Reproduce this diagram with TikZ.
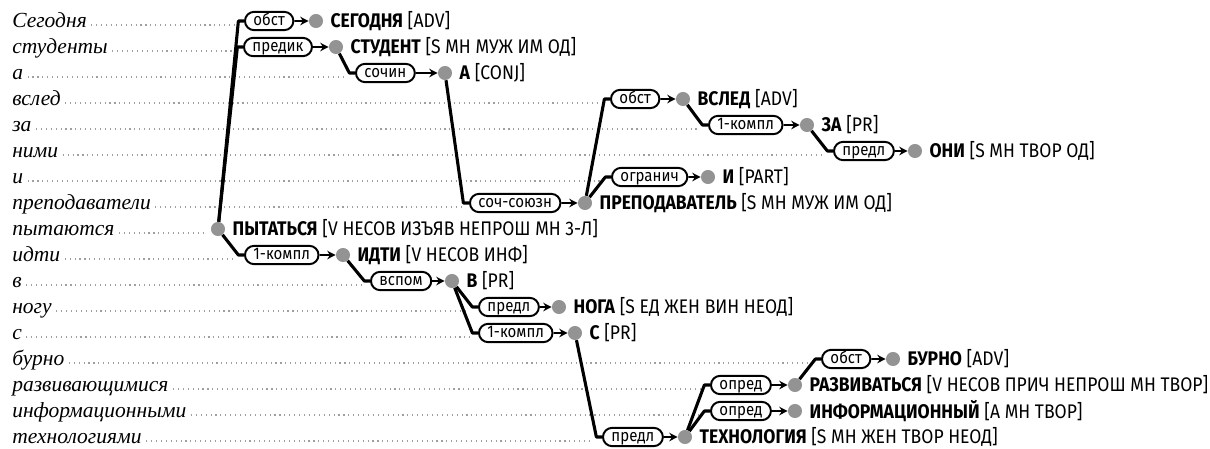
\documentclass[tikz,border=0pt]{standalone}
\usepackage{fontspec}
\setmainfont{Liberation Serif}
\newfontfamily\glossfont[FakeStretch=0.89]{Fira Sans}
\usetikzlibrary{arrows.meta, positioning, shapes.misc}

\begin{document}
\begin{tikzpicture}[
    x=0.025cm, y=-0.025cm,
    % Styles
    word/.style={anchor=west, inner sep=0pt, text height=9pt, text depth=6pt, font=\fontsize{15.3}{17}\selectfont\itshape},
    lemma/.style={inner sep=0pt, font=\glossfont\fontsize{14}{16}\selectfont},
    rel/.style={draw, rounded rectangle, anchor=west, line width=1.4pt, fill=white, inner xsep=3pt, inner ysep=0pt, minimum height=13pt, text height=8.5pt, text depth=2.5pt, font=\glossfont\fontsize{12}{14}\selectfont},
    dot/.style={circle, fill=gray!85, inner sep=0pt, minimum size=10pt},
    edge/.style={line width=2.2pt, line join=round},
    arrow/.style={-{Stealth[length=6pt, width=6pt]}, line width=1.4pt},
    guide/.style={gray!75, line width=0.8pt, dash pattern=on 0.8pt off 2.7pt}
]
    \useasboundingbox (0,0) rectangle (1210,448);

    % 1. WORDS OF THE SENTENCE
    \node[word] (w1)  at (12,25)  {Сегодня};
    \node[word] (w2)  at (12,51)  {студенты};
    \node[word] (w3)  at (12,77)  {а};
    \node[word] (w4)  at (12,103) {вслед};
    \node[word] (w5)  at (12,129) {за};
    \node[word] (w6)  at (12,155) {ними};
    \node[word] (w7)  at (12,181) {и};
    \node[word] (w8)  at (12,207) {преподаватели};
    \node[word] (w9)  at (12,233) {пытаются};
    \node[word] (w10) at (12,259) {идти};
    \node[word] (w11) at (12,285) {в};
    \node[word] (w12) at (12,311) {ногу};
    \node[word] (w13) at (12,337) {с};
    \node[word] (w14) at (12,363) {бурно};
    \node[word] (w15) at (12,389) {развивающимися};
    \node[word] (w16) at (12,415) {информационными};
    \node[word] (w17) at (12,441) {технологиями};

    % 2. TREE NODES
    \node[dot] (segodnya) at (316,21)  {};
    \node[dot] (student)  at (336,47)  {};
    \node[dot] (a_conj)   at (445,73)  {};
    \node[dot] (vsled)    at (683,99)  {};
    \node[dot] (za)       at (807,125) {};
    \node[dot] (oni)      at (915,151) {};
    \node[dot] (i_part)   at (708,177) {};
    \node[dot] (prepod)   at (585,203) {};
    \node[dot] (pytatsya) at (218,229) {};
    \node[dot] (idti)     at (343,255) {};
    \node[dot] (v_pr)     at (452,281) {};
    \node[dot] (noga)     at (559,307) {};
    \node[dot] (s_pr)     at (575,333) {};
    \node[dot] (burno)    at (893,359) {};
    \node[dot] (razviv)   at (795,385) {};
    \node[dot] (inform)   at (795,411) {};
    \node[dot] (tehnol)   at (685,437) {};

    % 3. LEMMAS AND TAGS
    \node[lemma, right=5pt of segodnya] (l_segodnya) {\textbf{СЕГОДНЯ} [ADV]};
    \node[lemma, right=5pt of student]  (l_student)  {\textbf{СТУДЕНТ} [S МН МУЖ ИМ ОД]};
    \node[lemma, right=5pt of a_conj]   (l_a_conj)   {\textbf{А} [CONJ]};
    \node[lemma, right=5pt of vsled]    (l_vsled)    {\textbf{ВСЛЕД} [ADV]};
    \node[lemma, right=5pt of za]       (l_za)       {\textbf{ЗА} [PR]};
    \node[lemma, right=5pt of oni]      (l_oni)      {\textbf{ОНИ} [S МН ТВОР ОД]};
    \node[lemma, right=5pt of i_part]   (l_i_part)   {\textbf{И} [PART]};
    \node[lemma, right=5pt of prepod]   (l_prepod)   {\textbf{ПРЕПОДАВАТЕЛЬ} [S МН МУЖ ИМ ОД]};
    \node[lemma, right=5pt of pytatsya] (l_pytatsya) {\textbf{ПЫТАТЬСЯ} [V НЕСОВ ИЗЪЯВ НЕПРОШ МН 3-Л]};
    \node[lemma, right=5pt of idti]     (l_idti)     {\textbf{ИДТИ} [V НЕСОВ ИНФ]};
    \node[lemma, right=5pt of v_pr]     (l_v_pr)     {\textbf{В} [PR]};
    \node[lemma, right=5pt of noga]     (l_noga)     {\textbf{НОГА} [S ЕД ЖЕН ВИН НЕОД]};
    \node[lemma, right=5pt of s_pr]     (l_s_pr)     {\textbf{С} [PR]};
    \node[lemma, right=5pt of burno]    (l_burno)    {\textbf{БУРНО} [ADV]};
    \node[lemma, right=5pt of razviv]   (l_razviv)   {\textbf{РАЗВИВАТЬСЯ} [V НЕСОВ ПРИЧ НЕПРОШ МН ТВОР]};
    \node[lemma, right=5pt of inform]   (l_inform)   {\textbf{ИНФОРМАЦИОННЫЙ} [А МН ТВОР]};
    \node[lemma, right=5pt of tehnol]   (l_tehnol)   {\textbf{ТЕХНОЛОГИЯ} [S МН ЖЕН ТВОР НЕОД]};

    % 4. RELATION LABELS
    \node[rel] (obst_seg)    at (244,21)  {обст};
    \node[rel] (predik)      at (243,47)  {предик};
    \node[rel] (sochin)      at (355,73)  {сочин};
    \node[rel] (obst_vsled)  at (610,99)  {обст};
    \node[rel] (kompl_za)    at (708,125) {1-компл};
    \node[rel] (predl_oni)   at (833,151) {предл};
    \node[rel] (ogranich)    at (611,177) {огранич};
    \node[rel] (soch_soyuzn) at (469,203) {соч-союзн};
    \node[rel] (kompl_idti)  at (244,255) {1-компл};
    \node[rel] (vspom)       at (370,281) {вспом};
    \node[rel] (predl_noga)  at (478,307) {предл};
    \node[rel] (kompl_s)     at (478,333) {1-компл};
    \node[rel] (obst_burno)  at (821,359) {обст};
    \node[rel] (opred_razv)  at (710,385) {опред};
    \node[rel] (opred_inf)   at (710,411) {опред};
    \node[rel] (predl_tehn)  at (602,437) {предл};

    % 5. DOTTED GUIDES
    \draw[guide] ([xshift=3pt]w1.east)  -- ([xshift=-7pt]w1.east -| obst_seg.west);
    \draw[guide] ([xshift=3pt]w2.east)  -- ([xshift=-7pt]w2.east -| predik.west);
    \draw[guide] ([xshift=3pt]w3.east)  -- ([xshift=-6pt]w3.east -| sochin.west);
    \draw[guide] ([xshift=3pt]w4.east)  -- ([xshift=-6pt]w4.east -| obst_vsled.west);
    \draw[guide] ([xshift=3pt]w5.east)  -- ([xshift=-6pt]w5.east -| kompl_za.west);
    \draw[guide] ([xshift=3pt]w6.east)  -- ([xshift=-6pt]w6.east -| predl_oni.west);
    \draw[guide] ([xshift=3pt]w7.east)  -- ([xshift=-6pt]w7.east -| ogranich.west);
    \draw[guide] ([xshift=3pt]w8.east)  -- ([xshift=-6pt]w8.east -| soch_soyuzn.west);
    \draw[guide] ([xshift=3pt]w9.east)  -- ([xshift=-3pt]w9.east -| pytatsya.west);
    \draw[guide] ([xshift=3pt]w10.east) -- ([xshift=-7pt]w10.east -| kompl_idti.west);
    \draw[guide] ([xshift=3pt]w11.east) -- ([xshift=-6pt]w11.east -| vspom.west);
    \draw[guide] ([xshift=3pt]w12.east) -- ([xshift=-6pt]w12.east -| predl_noga.west);
    \draw[guide] ([xshift=3pt]w13.east) -- ([xshift=-6pt]w13.east -| kompl_s.west);
    \draw[guide] ([xshift=3pt]w14.east) -- ([xshift=-6pt]w14.east -| obst_burno.west);
    \draw[guide] ([xshift=3pt]w15.east) -- ([xshift=-6pt]w15.east -| opred_razv.west);
    \draw[guide] ([xshift=3pt]w16.east) -- ([xshift=-6pt]w16.east -| opred_inf.west);
    \draw[guide] ([xshift=3pt]w17.east) -- ([xshift=-6pt]w17.east -| predl_tehn.west);

    % 6. DEPENDENCY EDGES
    % ПЫТАТЬСЯ
    \draw[edge] (pytatsya) -- ([xshift=-4pt]obst_seg.west) -- (obst_seg.west);
    \draw[edge] (pytatsya) -- ([xshift=-4pt]predik.west) -- (predik.west);
    \draw[edge] (pytatsya) -- ([xshift=-4pt]kompl_idti.west) -- (kompl_idti.west);
    % СТУДЕНТ and А
    \draw[edge] (student) -- ([xshift=-4pt]sochin.west) -- (sochin.west);
    \draw[edge] (a_conj) -- ([xshift=-4pt]soch_soyuzn.west) -- (soch_soyuzn.west);
    % ПРЕПОДАВАТЕЛЬ, ВСЛЕД, ЗА
    \draw[edge] (prepod) -- ([xshift=-4pt]obst_vsled.west) -- (obst_vsled.west);
    \draw[edge] (prepod) -- ([xshift=-4pt]ogranich.west) -- (ogranich.west);
    \draw[edge] (vsled) -- ([xshift=-4pt]kompl_za.west) -- (kompl_za.west);
    \draw[edge] (za) -- ([xshift=-4pt]predl_oni.west) -- (predl_oni.west);
    % ИДТИ, В, С
    \draw[edge] (idti) -- ([xshift=-4pt]vspom.west) -- (vspom.west);
    \draw[edge] (v_pr) -- ([xshift=-4pt]predl_noga.west) -- (predl_noga.west);
    \draw[edge] (v_pr) -- ([xshift=-4pt]kompl_s.west) -- (kompl_s.west);
    \draw[edge] (s_pr) -- ([xshift=-4pt]predl_tehn.west) -- (predl_tehn.west);
    % ТЕХНОЛОГИЯ, РАЗВИВАТЬСЯ
    \draw[edge] (tehnol) -- ([xshift=-4pt]opred_razv.west) -- (opred_razv.west);
    \draw[edge] (tehnol) -- ([xshift=-4pt]opred_inf.west) -- (opred_inf.west);
    \draw[edge] (razviv) -- ([xshift=-4pt]obst_burno.west) -- (obst_burno.west);

    % 7. LABEL TO DEPENDENT
    \draw[arrow] (obst_seg) -- (segodnya);
    \draw[arrow] (predik) -- (student);
    \draw[arrow] (sochin) -- (a_conj);
    \draw[arrow] (obst_vsled) -- (vsled);
    \draw[arrow] (kompl_za) -- (za);
    \draw[arrow] (predl_oni) -- (oni);
    \draw[arrow] (ogranich) -- (i_part);
    \draw[arrow] (soch_soyuzn) -- (prepod);
    \draw[arrow] (kompl_idti) -- (idti);
    \draw[arrow] (vspom) -- (v_pr);
    \draw[arrow] (predl_noga) -- (noga);
    \draw[arrow] (kompl_s) -- (s_pr);
    \draw[arrow] (obst_burno) -- (burno);
    \draw[arrow] (opred_razv) -- (razviv);
    \draw[arrow] (opred_inf) -- (inform);
    \draw[arrow] (predl_tehn) -- (tehnol);

\end{tikzpicture}
\end{document}
